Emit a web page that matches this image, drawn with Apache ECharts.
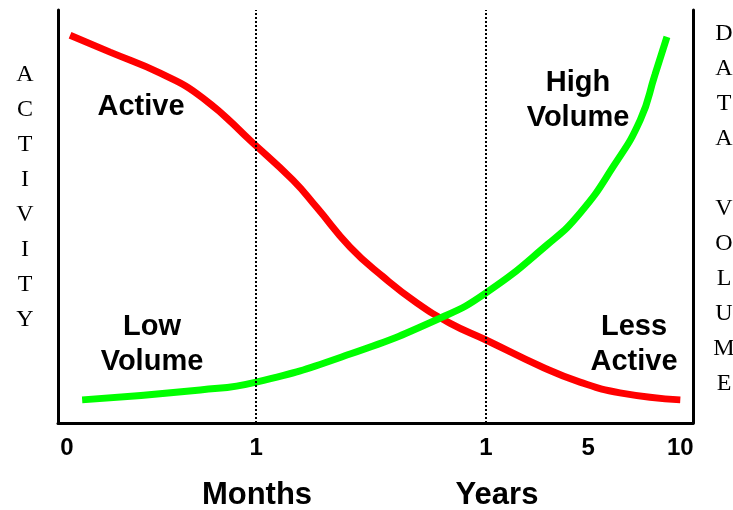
<!DOCTYPE html>
<html>
<head>
<meta charset="utf-8">
<script src="https://cdn.jsdelivr.net/npm/echarts@6/dist/echarts.min.js"></script>
<style>
  html, body { margin: 0; padding: 0; background: #fff; }
  #chart-container { width: 733px; height: 510px; }
</style>
</head>
<body>
<div id="chart-container"></div>
<script>
// x runs 0..100 across the plot, y runs 0..100 bottom to top
var tickPositions = [1.4, 31.2, 67.4, 83.5, 98];
var tickLabels = ['0', '1', '1', '5', '10'];
var dividerPositions = [31.2, 67.4];

var activeX = [1.9, 8.2, 16.1, 22.8, 30.7, 37.0, 40.8, 46.0, 51.2, 56.5, 61.7, 67.4, 75.9, 82.2, 88.5, 98.0];
var activeY = [93.9, 89.8, 84.7, 78.7, 67.8, 58.8, 52.1, 42.6, 35.4, 29.1, 24.2, 20.1, 13.8, 9.9, 7.3, 5.6];

var volumeX = [3.8, 22.4, 31.2, 46.0, 60.2, 67.4, 77.0, 82.2, 87.4, 91.7, 94.0, 95.9];
var volumeY = [5.6, 8.0, 9.9, 16.7, 25.4, 31.5, 43.1, 50.8, 62.0, 73.4, 84.3, 93.5];

function pairs(xs, ys) {
  return xs.map(function (x, i) { return [x, ys[i]]; });
}

var dom = document.getElementById('chart-container');
var myChart = echarts.init(dom, null, { renderer: 'canvas' });

var boldText = { fontFamily: 'Liberation Sans', fontWeight: 'bold', fill: '#000' };
var letterText = { fontFamily: 'Liberation Serif', fontSize: 24, fill: '#000', lineHeight: 35, align: 'center' };

var option = {
  animation: false,
  backgroundColor: '#fff',
  grid: { left: 58, right: 40, top: 10, bottom: 87 },
  xAxis: {
    type: 'value',
    min: 0,
    max: 100,
    axisLine: { show: true, lineStyle: { color: '#000', width: 3 } },
    axisTick: { show: false },
    splitLine: { show: false },
    axisLabel: {
      customValues: tickPositions,
      formatter: function (v) {
        var i = tickPositions.indexOf(v);
        return i >= 0 ? tickLabels[i] : '';
      },
      margin: 13,
      color: '#000',
      fontFamily: 'Liberation Sans',
      fontWeight: 'bold',
      fontSize: 24
    }
  },
  yAxis: [
    {
      type: 'value',
      min: 0,
      max: 100,
      position: 'left',
      axisLine: { show: true, lineStyle: { color: '#000', width: 3 } },
      axisTick: { show: false },
      axisLabel: { show: false },
      splitLine: { show: false }
    },
    {
      type: 'value',
      min: 0,
      max: 100,
      position: 'right',
      axisLine: { show: true, lineStyle: { color: '#000', width: 3 } },
      axisTick: { show: false },
      axisLabel: { show: false },
      splitLine: { show: false }
    }
  ],
  series: [
    {
      type: 'line',
      data: pairs(activeX, activeY),
      smooth: 0.5,
      symbol: 'none',
      lineStyle: { color: '#ff0000', width: 7 },
      z: 3,
      markLine: {
        silent: true,
        symbol: 'none',
        label: { show: false },
        lineStyle: { color: '#000', width: 2, type: [2, 2] },
        data: dividerPositions.map(function (x) { return { xAxis: x }; })
      }
    },
    {
      type: 'line',
      data: pairs(volumeX, volumeY),
      smooth: 0.5,
      symbol: 'none',
      lineStyle: { color: '#00ff00', width: 7 },
      z: 4
    }
  ],
  graphic: [
    { type: 'text', x: 141, y: 107, style: Object.assign({ text: 'Active', fontSize: 29, align: 'center', verticalAlign: 'middle' }, boldText) },
    { type: 'text', x: 152, y: 344, style: Object.assign({ text: 'Low\nVolume', fontSize: 29, lineHeight: 35, align: 'center', verticalAlign: 'middle' }, boldText) },
    { type: 'text', x: 578, y: 100, style: Object.assign({ text: 'High\nVolume', fontSize: 29, lineHeight: 35, align: 'center', verticalAlign: 'middle' }, boldText) },
    { type: 'text', x: 634, y: 344, style: Object.assign({ text: 'Less\nActive', fontSize: 29, lineHeight: 35, align: 'center', verticalAlign: 'middle' }, boldText) },
    { type: 'text', x: 257, y: 495, style: Object.assign({ text: 'Months', fontSize: 31, align: 'center', verticalAlign: 'middle' }, boldText) },
    { type: 'text', x: 497, y: 495, style: Object.assign({ text: 'Years', fontSize: 31, align: 'center', verticalAlign: 'middle' }, boldText) },
    { type: 'text', x: 25, y: 197, style: Object.assign({ text: 'ACTIVITY'.split('').join('\n'), verticalAlign: 'middle' }, letterText) },
    { type: 'text', x: 724, y: 209, style: Object.assign({ text: 'DATA VOLUME'.split('').join('\n'), verticalAlign: 'middle' }, letterText) }
  ]
};

myChart.setOption(option);
window.addEventListener('resize', myChart.resize);
</script>
</body>
</html>
